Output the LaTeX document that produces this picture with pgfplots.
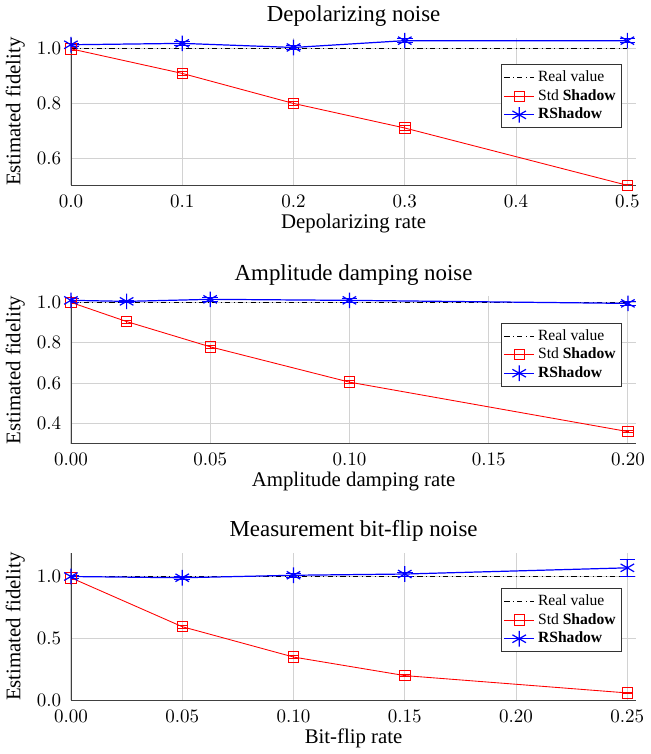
\documentclass[border=0pt]{standalone}
\usepackage{pgfplots}
\pgfplotsset{compat=1.18}
\usepackage{fontspec}
\setmainfont{Liberation Serif}

\pgfplotsset{
  fidstyle/.style={
    width=326pt, height=85pt, scale only axis,
    axis x line=bottom, axis y line=left,
    axis line style={-, black!75},
    xmajorgrids, ymajorgrids,
    grid style={gray!35, line width=0.5pt},
    tick label style={font=\fontsize{10.5}{12}\selectfont},
    ylabel={Estimated fidelity},
    ylabel style={font=\large},
    xlabel style={font=\large, yshift=3pt},
    title style={font=\fontsize{13.2}{15}\selectfont, yshift=-3pt},
    legend style={font=\small, draw=black!80, row sep=-1pt, inner sep=1.5pt, anchor=north east, cells={anchor=west}},
    legend cell align=left,
    tick style={draw=none},
  },
  realv/.style={black, dash dot, line width=0.5pt, mark=none},
  stdv/.style={red, line width=0.5pt, mark=square, mark size=3pt, mark options={solid},
    error bars/.cd, y dir=both, y explicit, error bar style={red}},
  rsv/.style={blue, line width=0.7pt, mark=asterisk, mark size=4.5pt, mark options={solid},
    error bars/.cd, y dir=both, y explicit, error bar style={blue}},
}

\begin{document}
\begin{tikzpicture}
% depolarizing
\begin{axis}[fidstyle, at={(0,0)}, anchor=north west,
  title={Depolarizing noise}, xlabel={Depolarizing rate},
  xmin=0, xmax=0.508, ymin=0.5, ymax=1.04,
  xtick={0,0.1,0.2,0.3,0.4,0.5}, ytick={0.6,0.8,1.0},
  xticklabel style={/pgf/number format/.cd, fixed, fixed zerofill, precision=1},
  yticklabel style={/pgf/number format/.cd, fixed, fixed zerofill, precision=1},
  legend style={at={(0.975,0.82)}}]
\addplot[realv] coordinates {(0,1) (0.5,1)};
\addlegendentry{Real value}
\addplot[stdv] coordinates {
  (0,1.0) +- (0,0.005) (0.1,0.91) +- (0,0.006) (0.2,0.80) +- (0,0.006) (0.3,0.71) +- (0,0.008) (0.5,0.50) +- (0,0.005)};
\addlegendentry{Std \textbf{Shadow}}
\addplot[rsv] coordinates {
  (0,1.015) +- (0,0.006) (0.1,1.02) +- (0,0.007) (0.2,1.005) +- (0,0.008) (0.3,1.03) +- (0,0.008) (0.5,1.03) +- (0,0.008)};
\addlegendentry{\textbf{RShadow}}
\end{axis}
% amplitude damping
\begin{axis}[fidstyle, at={(0,-149pt)}, anchor=north west,
  title={Amplitude damping noise}, xlabel={Amplitude damping rate},
  xmin=0, xmax=0.203, ymin=0.3, ymax=1.03,
  xtick={0,0.05,0.1,0.15,0.2}, ytick={0.4,0.6,0.8,1.0},
  xticklabel style={/pgf/number format/.cd, fixed, fixed zerofill, precision=2},
  yticklabel style={/pgf/number format/.cd, fixed, fixed zerofill, precision=1},
  legend style={at={(0.975,0.82)}}]
\addplot[realv] coordinates {(0,1) (0.2,1)};
\addlegendentry{Real value}
\addplot[stdv] coordinates {
  (0,1.0) +- (0,0.006) (0.02,0.905) +- (0,0.007) (0.05,0.78) +- (0,0.008) (0.1,0.605) +- (0,0.008) (0.2,0.36) +- (0,0.006)};
\addlegendentry{Std \textbf{Shadow}}
\addplot[rsv] coordinates {
  (0,1.01) +- (0,0.008) (0.02,1.005) +- (0,0.007) (0.05,1.015) +- (0,0.008) (0.1,1.01) +- (0,0.008) (0.2,0.995) +- (0,0.01)};
\addlegendentry{\textbf{RShadow}}
\end{axis}
% bit-flip
\begin{axis}[fidstyle, at={(0,-297pt)}, anchor=north west,
  title={Measurement bit-flip noise}, xlabel={Bit-flip rate},
  xmin=0, xmax=0.254, ymin=0, ymax=1.19,
  xtick={0,0.05,0.1,0.15,0.2,0.25}, ytick={0,0.5,1.0},
  xticklabel style={/pgf/number format/.cd, fixed, fixed zerofill, precision=2},
  yticklabel style={/pgf/number format/.cd, fixed, fixed zerofill, precision=1},
  legend style={at={(0.975,0.76)}}]
\addplot[realv] coordinates {(0,1) (0.25,1)};
\addlegendentry{Real value}
\addplot[stdv] coordinates {
  (0,0.99) +- (0,0.01) (0.05,0.595) +- (0,0.012) (0.1,0.35) +- (0,0.012) (0.15,0.2) +- (0,0.01) (0.25,0.06) +- (0,0.006)};
\addlegendentry{Std \textbf{Shadow}}
\addplot[rsv] coordinates {
  (0,1.0) +- (0,0.012) (0.05,0.99) +- (0,0.012) (0.1,1.01) +- (0,0.015) (0.15,1.02) +- (0,0.015) (0.25,1.07) +- (0,0.07)};
\addlegendentry{\textbf{RShadow}}
\end{axis}
\end{tikzpicture}
\end{document}
